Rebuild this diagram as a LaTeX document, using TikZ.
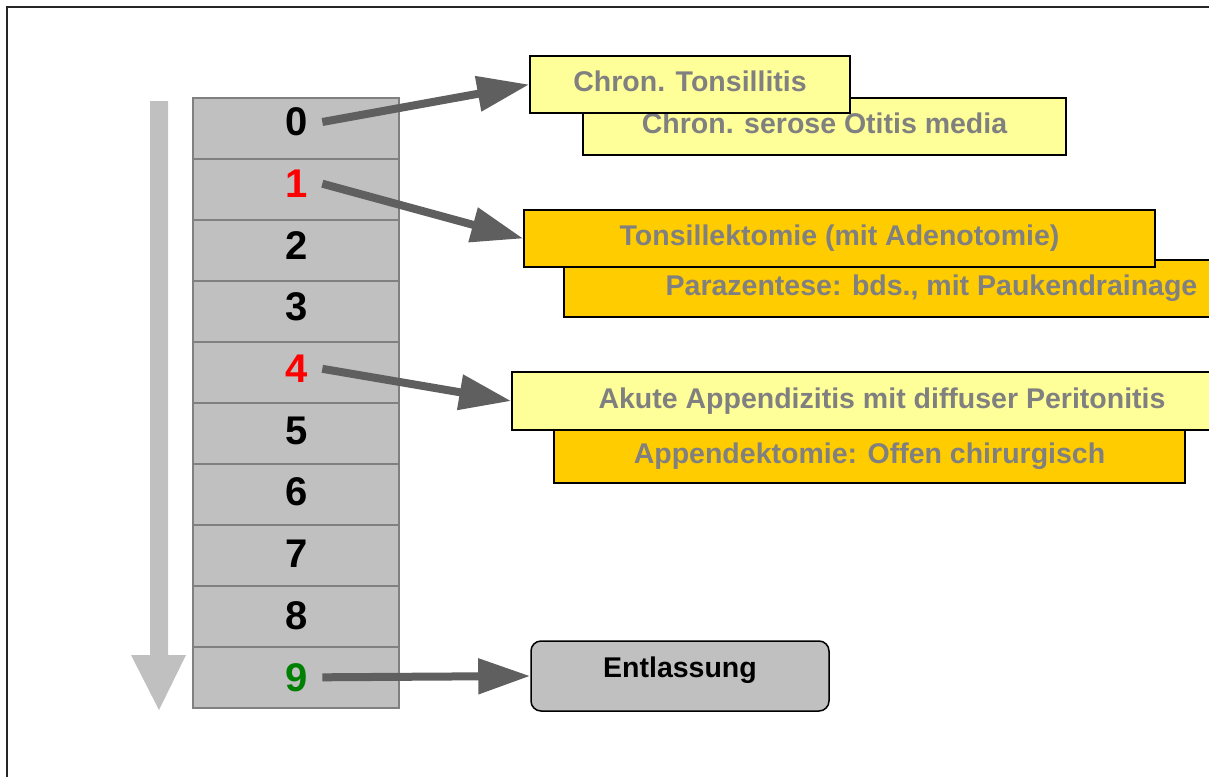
\documentclass[tikz,border=0pt]{standalone}
\usepackage{fontspec}
\setmainfont{Liberation Sans}
\usetikzlibrary{arrows.meta}
\definecolor{paleyellow}{HTML}{FFFF99}
\definecolor{gold}{HTML}{FFCC00}
\definecolor{cellgray}{HTML}{C0C0C0}
\definecolor{textgray}{HTML}{808080}
\definecolor{arrowgray}{HTML}{5F5F5F}
\definecolor{darkgreen}{HTML}{008000}
\tikzset{
  diagbox/.style={draw=black, line width=1.5pt, rectangle, inner sep=0pt, text=textgray,
    font=\fontsize{28.5}{34}\selectfont\bfseries, text height=21pt, text depth=7pt},
  cell/.style={draw=textgray, fill=cellgray, line width=1.5pt, minimum width=206pt, minimum height=61pt, inner sep=0pt},
  digit/.style={font=\fontsize{40}{48}\selectfont\bfseries, inner xsep=14pt, inner ysep=0pt},
  conn/.style={arrowgray, line width=8pt, -{Triangle[length=52pt,width=34pt]}}
}
\begin{document}
\begin{tikzpicture}[x=1pt, y=-1pt]
\useasboundingbox (0,0) rectangle (1209,776);
\clip (0,0) rectangle (1209,776);
\fill[white] (0,0) rectangle (1209,776);
\draw[line width=2pt, black!85] (7,7) rectangle (1240,800);
% time arrow
\fill[cellgray] (150,101) -- (168,101) -- (168,655) -- (186,655) -- (159,710) -- (131,655) -- (150,655) -- cycle;
% stack of steps
\foreach \i in {0,...,9}
  \node[cell] (c\i) at (296,128.5+61*\i) {};
\foreach \i/\col in {0/black,1/red,2/black,3/black,4/red,5/black,6/black,7/black,8/black,9/darkgreen}
  \node[digit, text=\col] (d\i) at (297,122+61.7*\i) {\i};
% boxes
\node[diagbox, fill=paleyellow, minimum width=483pt, minimum height=57pt] (otitis) at (824.5,126.5) {Chron. serose Otitis media};
\node[diagbox, fill=paleyellow, minimum width=320pt, minimum height=57pt] (tons) at (690,84.5) {Chron. Tonsillitis};
\node[diagbox, fill=gold, minimum width=735pt, minimum height=57pt] (para) at (931.5,288.5) {Parazentese: bds., mit Paukendrainage};
\node[diagbox, fill=gold, minimum width=631pt, minimum height=57pt] (tonsek) at (839.5,238.5) {Tonsillektomie (mit Adenotomie)};
\node[diagbox, fill=gold, minimum width=631pt, minimum height=54pt] (append) at (869.5,456) {Appendektomie: Offen chirurgisch};
\node[diagbox, fill=paleyellow, minimum width=740pt, minimum height=58pt] (akute) at (882,401) {Akute Appendizitis mit diffuser Peritonitis};
\node[diagbox, fill=cellgray, text=black, rounded corners=10pt, minimum width=298pt, minimum height=70pt,
  text height=14pt, text depth=12pt] (entl) at (680,676) {Entlassung};
% connectors
\draw[conn] (d0.east) -- (tons.west);
\draw[conn] (d1.east) -- (tonsek.west);
\draw[conn] (d4.east) -- (akute.west);
\draw[conn] (d9.east) -- (entl.west);
\end{tikzpicture}
\end{document}
